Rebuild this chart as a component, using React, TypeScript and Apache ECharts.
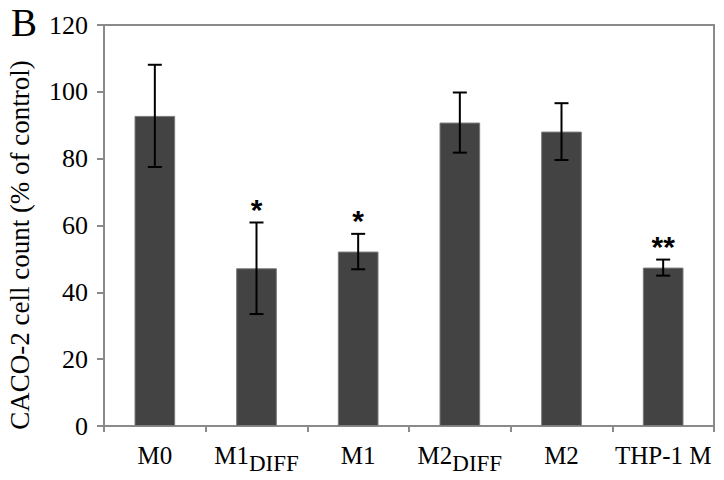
import React, { useEffect, useRef } from "react";
import * as echarts from "echarts";

const categories = ["M0", "M1_DIFF", "M1", "M2_DIFF", "M2", "THP-1 M"];
const means = [92.8, 47.2, 52.2, 90.8, 88.1, 47.4];
const errors = [15.3, 13.7, 5.3, 9.0, 8.5, 2.4];
const significance = ["", "*", "*", "", "", "**"];
const yTicks = [0, 20, 40, 60, 80, 100, 120];
const yAxisTitle = "CACO-2 cell count (% of control)";
const panelLabel = "B";

const SERIF = "'Liberation Serif', 'Times New Roman', serif";
const AXIS_COLOR = "#8a8a8a";

function fmtCategory(c: string): string {
  const parts = c.split("_");
  if (parts.length === 2) return `{m|${parts[0]}}{s|${parts[1]}}`;
  return `{m|${c}}`;
}

export default function App() {
  const ref = useRef<HTMLDivElement>(null);
  useEffect(() => {
    if (!ref.current) return;
    const chart = echarts.init(ref.current, null, { renderer: "svg" });
    const errData = means.map((m, i) => [i, m - errors[i], m + errors[i]]);
    chart.setOption({
      animation: false,
      backgroundColor: "#ffffff",
      grid: {
        left: 104,
        top: 25,
        right: 10,
        bottom: 54,
        show: true,
        borderColor: AXIS_COLOR,
        borderWidth: 2,
        backgroundColor: "transparent",
      },
      graphic: [
        {
          type: "text",
          left: 11,
          top: 3,
          style: { text: panelLabel, font: `39px ${SERIF}`, fill: "#000" },
        },
        {
          type: "text",
          x: 20,
          y: 245,
          rotation: Math.PI / 2,
          style: {
            text: yAxisTitle,
            font: `27px ${SERIF}`,
            fill: "#000",
            align: "center",
            verticalAlign: "middle",
          },
        },
      ],
      xAxis: {
        type: "category",
        data: categories,
        axisLine: { show: true, lineStyle: { color: AXIS_COLOR, width: 2 } },
        axisTick: { show: true, alignWithLabel: false, length: 6, lineStyle: { color: AXIS_COLOR, width: 2 } },
        axisLabel: {
          interval: 0,
          margin: 17,
          formatter: (v: string) => fmtCategory(v),
          rich: {
            m: { fontFamily: SERIF, fontSize: 25, color: "#000", lineHeight: 25, verticalAlign: "top" },
            s: {
              fontFamily: SERIF,
              fontSize: 23,
              color: "#000",
              lineHeight: 40,
              verticalAlign: "middle",
            },
          },
        },
      },
      yAxis: {
        type: "value",
        min: 0,
        max: 120,
        interval: 20,
        axisLine: { show: true, lineStyle: { color: AXIS_COLOR, width: 2 } },
        axisTick: { show: true, length: 7, lineStyle: { color: AXIS_COLOR, width: 2 } },
        splitLine: { show: false },
        axisLabel: {
          margin: 16,
          fontFamily: SERIF,
          fontSize: 26,
          color: "#000",
          formatter: (v: number) => (yTicks.includes(v) ? String(v) : ""),
        },
      },
      series: [
        {
          type: "bar",
          data: means,
          barWidth: "40%",
          itemStyle: { color: "#434343", borderColor: "#7a7a7a", borderWidth: 1 },
        },
        {
          type: "custom",
          data: errData,
          z: 10,
          renderItem: (params: any, api: any) => {
            const x = api.value(0);
            const lo = api.coord([x, api.value(1)]);
            const hi = api.coord([x, api.value(2)]);
            const cap = 7;
            const style = { stroke: "#000", lineWidth: 2 };
            const children: any[] = [
              { type: "line", shape: { x1: lo[0], y1: lo[1], x2: hi[0], y2: hi[1] }, style },
              { type: "line", shape: { x1: hi[0] - cap, y1: hi[1], x2: hi[0] + cap, y2: hi[1] }, style },
              { type: "line", shape: { x1: lo[0] - cap, y1: lo[1], x2: lo[0] + cap, y2: lo[1] }, style },
            ];
            const sig = significance[params.dataIndex];
            if (sig) {
              children.push({
                type: "text",
                style: {
                  text: sig,
                  x: hi[0],
                  y: hi[1] + 2,
                  align: "center",
                  verticalAlign: "bottom",
                  font: `bold 30px 'Liberation Sans', Arial, sans-serif`,
                  fill: "#000",
                },
              });
            }
            return { type: "group", children };
          },
        },
      ],
    });
    return () => chart.dispose();
  }, []);
  return <div ref={ref} style={{ width: 724, height: 480, position: "fixed", left: 0, top: 0 }} />;
}
